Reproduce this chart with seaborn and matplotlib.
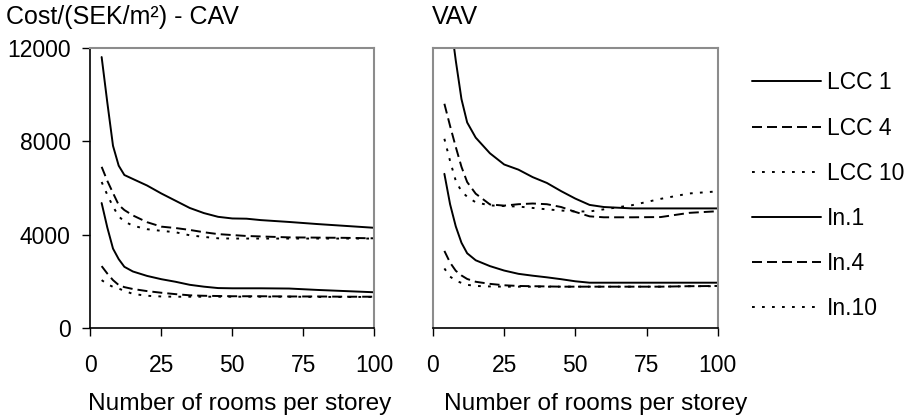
import pandas as pd
import matplotlib.pyplot as plt
import seaborn as sns

# Number of rooms per storey (shared x values)
rooms = [4, 6, 8, 10, 12, 15, 20, 25, 30, 35, 40, 45, 50, 55, 60, 70, 80, 90, 100]

# CAV costs, SEK/m2
cav_lcc1 = [11600, 9650, 7800, 6950, 6550, 6380, 6100, 5760, 5450, 5140, 4920, 4760, 4690, 4680, 4620, 4540, 4450, 4370, 4290]
cav_lcc4 = [6900, 6300, 5780, 5270, 5050, 4820, 4530, 4340, 4280, 4200, 4100, 4020, 3980, 3940, 3920, 3880, 3870, 3860, 3840]
cav_lcc10 = [6250, 5700, 5200, 4780, 4560, 4380, 4230, 4160, 4100, 3970, 3900, 3840, 3830, 3830, 3830, 3830, 3830, 3830, 3830]
cav_in1 = [5350, 4300, 3400, 2950, 2620, 2420, 2230, 2090, 1980, 1850, 1770, 1710, 1700, 1700, 1700, 1690, 1630, 1580, 1530]
cav_in4 = [2650, 2330, 2050, 1840, 1750, 1670, 1580, 1510, 1450, 1400, 1380, 1370, 1360, 1360, 1360, 1350, 1350, 1340, 1340]
cav_in10 = [2050, 1880, 1760, 1690, 1590, 1460, 1380, 1350, 1340, 1340, 1340, 1340, 1340, 1340, 1340, 1340, 1330, 1330, 1330]

# VAV costs, SEK/m2
vav_lcc1 = [15500, 13300, 11450, 9800, 8800, 8150, 7480, 7000, 6780, 6460, 6210, 5860, 5540, 5270, 5180, 5120, 5120, 5120, 5120]
vav_lcc4 = [9600, 8650, 7750, 6900, 6250, 5750, 5290, 5240, 5300, 5330, 5300, 5180, 4970, 4780, 4740, 4740, 4750, 4930, 5000]
vav_lcc10 = [8100, 7150, 6300, 5850, 5620, 5380, 5250, 5220, 5200, 5140, 5080, 5030, 4990, 4990, 5080, 5260, 5530, 5760, 5850]
vav_in1 = [6600, 5300, 4350, 3650, 3200, 2900, 2650, 2460, 2320, 2240, 2170, 2090, 2000, 1940, 1940, 1940, 1940, 1940, 1940]
vav_in4 = [3300, 2800, 2450, 2250, 2100, 1980, 1890, 1830, 1800, 1790, 1780, 1770, 1770, 1770, 1770, 1770, 1770, 1790, 1800]
vav_in10 = [2550, 2200, 2030, 1930, 1850, 1800, 1780, 1770, 1770, 1770, 1770, 1770, 1770, 1770, 1770, 1770, 1770, 1790, 1790]

labels = ['LCC 1', 'LCC 4', 'LCC 10', 'In.1', 'In.4', 'In.10']

sns.set_style('ticks')
plt.rcParams['font.family'] = ['Liberation Sans', 'DejaVu Sans']
plt.rcParams['font.size'] = 16.5
plt.rcParams['lines.scale_dashes'] = False
for key in ['text.color', 'axes.labelcolor', 'xtick.color', 'ytick.color']:
    plt.rcParams[key] = 'black'

solid = '-'
dashed = (0, (7.2, 3.6))
dotted = (0, (2.0, 5.2))
line_styles = [solid, dashed, dotted, solid, dashed, dotted]

fig = plt.figure(figsize=(9.11, 4.17), dpi=100)
ax1 = fig.add_axes([0.0991, 0.2134, 0.3118, 0.6722])
ax2 = fig.add_axes([0.4753, 0.2134, 0.3125, 0.6722])

panels = [
    (ax1, [cav_lcc1, cav_lcc4, cav_lcc10, cav_in1, cav_in4, cav_in10], 0.527),
    (ax2, [vav_lcc1, vav_lcc4, vav_lcc10, vav_in1, vav_in4, vav_in10], 0.5725),
]

for ax, series, label_x in panels:
    for vals, lab, ls in zip(series, labels, line_styles):
        df = pd.DataFrame({'rooms': rooms, 'cost': vals})
        sns.lineplot(data=df, x='rooms', y='cost', ax=ax, color='black',
                     linewidth=1.4, linestyle=ls, label=lab, legend=False)
    ax.set_xlim(0, 100)
    ax.set_ylim(0, 12000)
    ax.set_xticks([0, 25, 50, 75, 100])
    ax.set_xlabel('Number of rooms per storey', fontsize=17.6)
    ax.xaxis.set_label_coords(label_x, -0.233)
    ax.set_ylabel('')
    ax.tick_params(axis='x', direction='out', length=5.5, width=1, pad=13, colors='black')
    for side in ['top', 'right', 'left']:
        ax.spines[side].set_color('#8c8c8c')
        ax.spines[side].set_linewidth(1.5)
    ax.spines['bottom'].set_color('black')
    ax.spines['bottom'].set_linewidth(1.2)

ax1.spines['left'].set_color('black')
ax1.spines['left'].set_linewidth(1.2)
ax1.set_yticks([0, 4000, 8000, 12000])
ax1.tick_params(axis='y', direction='out', length=5.5, width=1, pad=8.5)
ax2.set_yticks([])

fig.text(6 / 911, 1 - 24 / 417, 'Cost/(SEK/m²) - CAV', fontsize=18, va='baseline', ha='left')
fig.text(431.7 / 911, 1 - 24 / 417, 'VAV', fontsize=18, va='baseline', ha='left')

handles = ax2.get_lines()[:6]
fig.legend(handles, labels, loc='upper left', bbox_to_anchor=(751.7 / 911, 0.829),
           frameon=False, handlelength=3.04, handletextpad=0.26, labelspacing=0.97,
           borderpad=0, borderaxespad=0, fontsize=16.5)

plt.savefig('out.png', dpi=100)
